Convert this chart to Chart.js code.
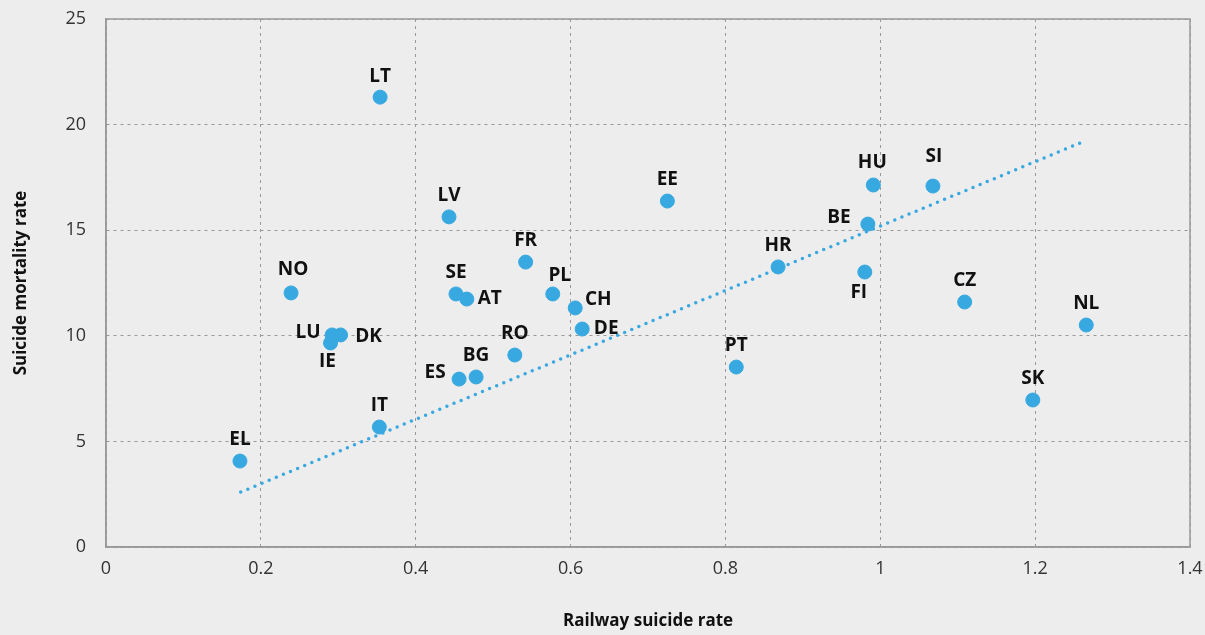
<!DOCTYPE html>
<html>
<head>
<meta charset="utf-8">
<script src="https://cdn.jsdelivr.net/npm/chart.js@4.4.1/dist/chart.umd.min.js"></script>
<style>
  html, body { margin: 0; padding: 0; background: #ededed; }
  #wrap { width: 1205px; height: 635px; }
</style>
</head>
<body>
<div id="wrap"><canvas id="chart"></canvas></div>
<script>
// country codes and values
const countries = ['EL', 'IT', 'LT', 'NO', 'LU', 'DK', 'IE', 'LV', 'SE', 'AT', 'ES', 'BG', 'RO', 'FR', 'PL',
    'CH', 'DE', 'EE', 'PT', 'HR', 'BE', 'FI', 'HU', 'SI', 'CZ', 'NL', 'SK'];
const railwayRate = [0.173, 0.353, 0.354, 0.239, 0.292, 0.303, 0.290, 0.443, 0.452, 0.466, 0.456, 0.478, 0.528, 0.542, 0.577,
    0.606, 0.615, 0.725, 0.814, 0.868, 0.984, 0.980, 0.991, 1.068, 1.109, 1.266, 1.197];
const mortalityRate = [4.07, 5.68, 21.3, 12.03, 10.04, 10.04, 9.66, 15.63, 11.98, 11.74, 7.95, 8.05, 9.09, 13.49, 11.98,
    11.32, 10.32, 16.38, 8.52, 13.26, 15.29, 13.02, 17.14, 17.09, 11.6, 10.51, 6.96];
// linear trend end points
const trendX = [0.174, 1.258];
const trendY = [2.60, 19.13];
const xTicks = [0, 0.2, 0.4, 0.6, 0.8, 1, 1.2, 1.4];

// where each label sits relative to its point: [dx, dy]
const labelShift = {
    LU: [-24, -2], DK: [28, 2], IE: [-3, 19], AT: [23, 0], ES: [-24, -7], CH: [23, -8], DE: [24, 0],
    BE: [-29, -6], FI: [-6, 21], PL: [7, -18], SI: [1, -29], HU: [-1, -22], NO: [2, -23]
};

const points = countries.map((c, i) => ({ x: railwayRate[i], y: mortalityRate[i], label: c }));
const trend = trendX.map((x, i) => ({ x: x, y: trendY[i] }));

const labelPlugin = {
    id: 'pointLabels',
    afterDatasetsDraw(chart) {
        const ctx = chart.ctx;
        const meta = chart.getDatasetMeta(1);
        ctx.save();
        ctx.font = 'bold 19px "Open Sans", sans-serif';
        ctx.fillStyle = '#111';
        ctx.textAlign = 'center';
        ctx.textBaseline = 'middle';
        meta.data.forEach((el, i) => {
            const c = countries[i];
            const s = labelShift[c] || [0, -21];
            ctx.fillText(c, el.x + s[0], el.y + s[1]);
        });
        ctx.restore();
    }
};

function noPad(axis) {
    axis.paddingTop = 0;
    axis.paddingBottom = 0;
    axis.paddingLeft = 0;
    axis.paddingRight = 0;
}

new Chart(document.getElementById('chart'), {
    type: 'scatter',
    data: {
        datasets: [{
            type: 'line',
            data: trend,
            borderColor: '#37a8e0',
            borderWidth: 3.5,
            borderDash: [0, 7.7],
            borderCapStyle: 'round',
            pointRadius: 0,
            fill: false
        }, {
            data: points,
            backgroundColor: '#37a8e0',
            borderColor: '#37a8e0',
            pointRadius: 7,
            pointHoverRadius: 7
        }]
    },
    options: {
        responsive: true,
        maintainAspectRatio: false,
        animation: false,
        layout: { padding: { top: 19, right: 15, bottom: 0, left: 0 } },
        plugins: { legend: { display: false }, tooltip: { enabled: false } },
        scales: {
            x: {
                type: 'linear',
                min: 0, max: 1.4,
                afterBuildTicks: axis => { axis.ticks = xTicks.map(v => ({ value: v })); },
                afterFit: axis => { axis.height = 88; noPad(axis); },
                grid: { color: '#999', drawTicks: false, tickLength: 0 },
                border: { color: '#999', width: 1.5, dash: [3, 4] },
                ticks: { color: '#333', font: { family: '"Open Sans", sans-serif', size: 18 }, padding: 11,
                    callback: v => String(v) },
                title: { display: true, text: 'Railway suicide rate', color: '#111',
                    font: { family: '"Open Sans", sans-serif', size: 17, weight: 'bold' }, padding: { top: 26 } }
            },
            y: {
                min: 0, max: 25,
                ticks: { stepSize: 5, color: '#333', font: { family: '"Open Sans", sans-serif', size: 18 }, padding: 20 },
                afterFit: axis => { axis.width = 106; noPad(axis); },
                grid: { color: '#999', drawTicks: false, tickLength: 0 },
                border: { color: '#999', width: 1.5, dash: [3, 4] },
                title: { display: true, text: 'Suicide mortality rate', color: '#111',
                    font: { family: '"Open Sans", sans-serif', size: 17, weight: 'bold' }, padding: { top: 11, bottom: 0 } }
            }
        }
    },
    plugins: [labelPlugin, {
        id: 'frame',
        beforeDatasetsDraw(chart) {
            const a = chart.chartArea, ctx = chart.ctx;
            ctx.save();
            ctx.strokeStyle = '#999';
            ctx.lineWidth = 1.5;
            ctx.strokeRect(a.left, a.top, a.right - a.left, a.bottom - a.top);
            ctx.restore();
        }
    }]
});
</script>
</body>
</html>
